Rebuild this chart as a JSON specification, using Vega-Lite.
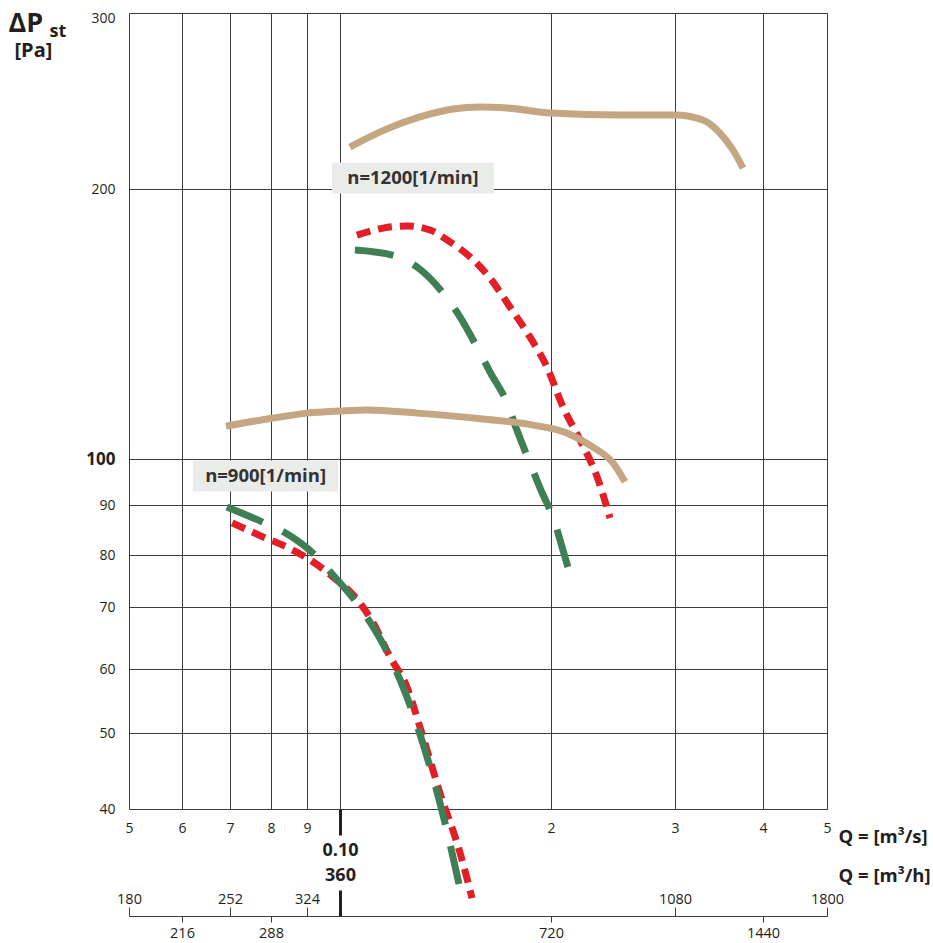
{
  "$schema": "https://vega.github.io/schema/vega-lite/v6.json",
  "width": 698,
  "height": 796,
  "autosize": {"type": "none"},
  "padding": {"left": 129, "top": 13, "right": 106, "bottom": 134},
  "background": "white",
  "config": {
    "font": "Open Sans",
    "view": {"stroke": null},
    "axis": {"labelFont": "Open Sans", "titleFont": "Open Sans", "labelColor": "#231f20", "titleColor": "#231f20"}
  },
  "title": {"text": "ρ = 1,2 [kg/m³]", "anchor": "end", "frame": "group", "fontSize": 20, "fontWeight": "bold", "color": "#231f20", "offset": 16},
  "datasets": {
    "curves": [
      {"c": "red_hi", "t": "red", "q": 0.1057, "p": 177.7},
      {"c": "red_hi", "t": "red", "q": 0.1152, "p": 180.9},
      {"c": "red_hi", "t": "red", "q": 0.1246, "p": 181.9},
      {"c": "red_hi", "t": "red", "q": 0.1344, "p": 180.0},
      {"c": "red_hi", "t": "red", "q": 0.1435, "p": 174.6},
      {"c": "red_hi", "t": "red", "q": 0.1533, "p": 168.0},
      {"c": "red_hi", "t": "red", "q": 0.1637, "p": 159.1},
      {"c": "red_hi", "t": "red", "q": 0.1748, "p": 147.7},
      {"c": "red_hi", "t": "red", "q": 0.1866, "p": 136.8},
      {"c": "red_hi", "t": "red", "q": 0.1974, "p": 126.6},
      {"c": "red_hi", "t": "red", "q": 0.2080, "p": 114.3},
      {"c": "red_hi", "t": "red", "q": 0.2199, "p": 105.0},
      {"c": "red_hi", "t": "red", "q": 0.2325, "p": 96.0},
      {"c": "red_hi", "t": "red", "q": 0.2426, "p": 87.3},
      {"c": "red_lo", "t": "red", "q": 0.0705, "p": 86.3},
      {"c": "red_lo", "t": "red", "q": 0.0779, "p": 83.5},
      {"c": "red_lo", "t": "red", "q": 0.0843, "p": 81.5},
      {"c": "red_lo", "t": "red", "q": 0.0909, "p": 79.0},
      {"c": "red_lo", "t": "red", "q": 0.0978, "p": 75.6},
      {"c": "red_lo", "t": "red", "q": 0.1068, "p": 70.7},
      {"c": "red_lo", "t": "red", "q": 0.1115, "p": 67.3},
      {"c": "red_lo", "t": "red", "q": 0.1179, "p": 61.8},
      {"c": "red_lo", "t": "red", "q": 0.1246, "p": 57.0},
      {"c": "red_lo", "t": "red", "q": 0.1300, "p": 50.9},
      {"c": "red_lo", "t": "red", "q": 0.1389, "p": 41.9},
      {"c": "red_lo", "t": "red", "q": 0.1483, "p": 35.2},
      {"c": "red_lo", "t": "red", "q": 0.1543, "p": 30.8},
      {"c": "green_hi", "t": "green", "q": 0.1050, "p": 171.0},
      {"c": "green_hi", "t": "green", "q": 0.1186, "p": 168.8},
      {"c": "green_hi", "t": "green", "q": 0.1288, "p": 163.7},
      {"c": "green_hi", "t": "green", "q": 0.1403, "p": 153.1},
      {"c": "green_hi", "t": "green", "q": 0.1483, "p": 144.0},
      {"c": "green_hi", "t": "green", "q": 0.1568, "p": 133.3},
      {"c": "green_hi", "t": "green", "q": 0.1637, "p": 125.0},
      {"c": "green_hi", "t": "green", "q": 0.1731, "p": 115.5},
      {"c": "green_hi", "t": "green", "q": 0.1788, "p": 107.7},
      {"c": "green_hi", "t": "green", "q": 0.1866, "p": 99.1},
      {"c": "green_hi", "t": "green", "q": 0.1929, "p": 93.6},
      {"c": "green_hi", "t": "green", "q": 0.2026, "p": 86.3},
      {"c": "green_hi", "t": "green", "q": 0.2080, "p": 80.9},
      {"c": "green_hi", "t": "green", "q": 0.2156, "p": 73.5},
      {"c": "green_lo", "t": "green", "q": 0.0693, "p": 89.6},
      {"c": "green_lo", "t": "green", "q": 0.0777, "p": 86.5},
      {"c": "green_lo", "t": "green", "q": 0.0838, "p": 84.3},
      {"c": "green_lo", "t": "green", "q": 0.0923, "p": 80.0},
      {"c": "green_lo", "t": "green", "q": 0.0978, "p": 76.0},
      {"c": "green_lo", "t": "green", "q": 0.1057, "p": 70.7},
      {"c": "green_lo", "t": "green", "q": 0.1115, "p": 66.6},
      {"c": "green_lo", "t": "green", "q": 0.1179, "p": 61.7},
      {"c": "green_lo", "t": "green", "q": 0.1246, "p": 55.4},
      {"c": "green_lo", "t": "green", "q": 0.1335, "p": 46.2},
      {"c": "green_lo", "t": "green", "q": 0.1412, "p": 38.4},
      {"c": "green_lo", "t": "green", "q": 0.1498, "p": 30.4},
      {"c": "tan_hi", "t": "tan", "q": 0.1033, "p": 220.3},
      {"c": "tan_hi", "t": "tan", "q": 0.1167, "p": 229.7},
      {"c": "tan_hi", "t": "tan", "q": 0.1300, "p": 236.1},
      {"c": "tan_hi", "t": "tan", "q": 0.1450, "p": 240.5},
      {"c": "tan_hi", "t": "tan", "q": 0.1584, "p": 241.6},
      {"c": "tan_hi", "t": "tan", "q": 0.1731, "p": 241.0},
      {"c": "tan_hi", "t": "tan", "q": 0.2000, "p": 238.3},
      {"c": "tan_hi", "t": "tan", "q": 0.2506, "p": 237.2},
      {"c": "tan_hi", "t": "tan", "q": 0.3000, "p": 237.2},
      {"c": "tan_hi", "t": "tan", "q": 0.3287, "p": 234.5},
      {"c": "tan_hi", "t": "tan", "q": 0.3475, "p": 227.5},
      {"c": "tan_hi", "t": "tan", "q": 0.3626, "p": 218.8},
      {"c": "tan_hi", "t": "tan", "q": 0.3747, "p": 209.9},
      {"c": "tan_lo", "t": "tan", "q": 0.0691, "p": 108.8},
      {"c": "tan_lo", "t": "tan", "q": 0.0790, "p": 110.8},
      {"c": "tan_lo", "t": "tan", "q": 0.0900, "p": 112.5},
      {"c": "tan_lo", "t": "tan", "q": 0.1000, "p": 113.1},
      {"c": "tan_lo", "t": "tan", "q": 0.1093, "p": 113.4},
      {"c": "tan_lo", "t": "tan", "q": 0.1288, "p": 112.5},
      {"c": "tan_lo", "t": "tan", "q": 0.1600, "p": 110.8},
      {"c": "tan_lo", "t": "tan", "q": 0.1885, "p": 109.1},
      {"c": "tan_lo", "t": "tan", "q": 0.2107, "p": 106.9},
      {"c": "tan_lo", "t": "tan", "q": 0.2294, "p": 103.1},
      {"c": "tan_lo", "t": "tan", "q": 0.2449, "p": 99.1},
      {"c": "tan_lo", "t": "tan", "q": 0.2548, "p": 94.9}
    ],
    "labels": [
      {"label": "n=1200[1/min]", "q": 0.1271, "p": 205.1},
      {"label": "n=900[1/min]", "q": 0.0786, "p": 96.2}
    ]
  },
  "layer": [
    {
      "data": {"name": "curves"},
      "transform": [{"filter": "datum.t == 'red'"}],
      "mark": {"type": "line", "color": "#e41e26", "strokeWidth": 7, "strokeDash": [14, 8], "interpolate": "monotone"},
      "encoding": {
        "x": {"field": "q", "type": "quantitative",
          "scale": {"type": "log", "domain": [0.05, 0.06, 0.07, 0.08, 0.09, 0.1, 0.2, 0.3, 0.4, 0.5], "range": [0, 53, 101, 142, 178, 211, 422, 546, 634, 698], "nice": false, "zero": false},
          "axis": {"orient": "bottom", "values": [0.05, 0.06, 0.07, 0.08, 0.09, 0.1, 0.2, 0.3, 0.4, 0.5], "grid": true, "gridColor": "#3c3c3c", "gridWidth": 1, "ticks": false, "domain": true, "domainColor": "#3c3c3c",
            "labelExpr": "datum.value < 0.095 ? format(datum.value * 100, 'd') : (datum.value < 0.15 ? '' : format(datum.value * 10, 'd'))",
            "labelFontSize": 14, "labelPadding": 12, "labelFlush": false, "labelOverlap": false,
            "title": "Q = [m³/s]", "titleFontSize": 18.5, "titleFontWeight": "bold", "titleX": 709, "titleY": 27, "titleAlign": "left", "titleBaseline": "middle", "titleAngle": 0}},
        "y": {"field": "p", "type": "quantitative",
          "scale": {"type": "log", "domain": [40, 50, 60, 70, 80, 90, 100, 200, 300], "range": [796, 720, 656, 594, 542, 492, 446, 176, 0], "nice": false, "zero": false},
          "axis": {"orient": "left", "values": [40, 50, 60, 70, 80, 90, 100, 200, 300], "grid": true, "gridColor": "#3c3c3c", "gridWidth": 1, "ticks": false, "domain": false, "labelPadding": 14, "labelOverlap": false, "labelFlush": false,
            "labelFontSize": {"condition": {"test": "datum.value == 100", "value": 17}, "value": 14},
            "labelFontWeight": {"condition": {"test": "datum.value == 100", "value": "bold"}, "value": "normal"},
            "labelOffset": {"condition": {"test": "datum.value == 300", "value": 5}, "value": 0},
            "title": "ΔP", "titleFontSize": 27, "titleFontWeight": "bold", "titleAngle": 0, "titleAlign": "left", "titleBaseline": "alphabetic", "titleX": -121, "titleY": 18}},
        "detail": {"field": "c"}
      }
    },
    {
      "data": {"name": "curves"},
      "transform": [{"filter": "datum.t == 'green'"}],
      "mark": {"type": "line", "color": "#3f7f55", "strokeWidth": 7, "strokeDash": [39, 22], "interpolate": "monotone"},
      "encoding": {
        "x": {"field": "q", "type": "quantitative",
          "scale": {"type": "log", "domain": [0.05, 0.06, 0.07, 0.08, 0.09, 0.1, 0.2, 0.3, 0.4, 0.5], "range": [0, 53, 101, 142, 178, 211, 422, 546, 634, 698], "nice": false, "zero": false},
          "axis": {"orient": "bottom", "values": [0.1], "grid": false, "domain": false, "ticks": true, "tickSize": 26, "tickWidth": 3, "tickColor": "#231f20",
            "labelExpr": "'0.10'", "labelFontSize": 18, "labelFontWeight": "bold", "labelPadding": 6, "labelFlush": false, "title": null}},
        "y": {"field": "p", "type": "quantitative",
          "scale": {"type": "log", "domain": [40, 50, 60, 70, 80, 90, 100, 200, 300], "range": [796, 720, 656, 594, 542, 492, 446, 176, 0], "nice": false, "zero": false},
          "axis": {"orient": "left", "grid": false, "ticks": false, "domain": false, "labels": false,
            "title": "st", "titleFontSize": 18, "titleFontWeight": "bold", "titleAngle": 0, "titleAlign": "left", "titleBaseline": "alphabetic", "titleX": -80, "titleY": 23}},
        "detail": {"field": "c"}
      }
    },
    {
      "data": {"name": "curves"},
      "transform": [{"filter": "datum.t == 'tan'"}],
      "mark": {"type": "line", "color": "#c4a683", "strokeWidth": 7, "interpolate": "monotone"},
      "encoding": {
        "x": {"field": "q", "type": "quantitative",
          "scale": {"type": "log", "domain": [0.05, 0.06, 0.07, 0.08, 0.09, 0.1, 0.2, 0.3, 0.4, 0.5], "range": [0, 53, 101, 142, 178, 211, 422, 546, 634, 698], "nice": false, "zero": false},
          "axis": {"orient": "bottom", "offset": 107, "values": [0.05, 0.07, 0.09, 0.3, 0.5], "grid": false, "domain": true, "domainColor": "#3c3c3c", "ticks": true, "tickSize": -9, "tickColor": "#3c3c3c",
            "labelExpr": "format(datum.value * 3600, 'd')", "labelFontSize": 14.5, "labelBaseline": "bottom", "labelPadding": -1, "labelFlush": false, "labelOverlap": false,
            "title": "Q = [m³/h]", "titleFontSize": 18.5, "titleFontWeight": "bold", "titleX": 709, "titleY": -41, "titleAlign": "left", "titleBaseline": "middle", "titleAngle": 0}},
        "y": {"field": "p", "type": "quantitative",
          "scale": {"type": "log", "domain": [40, 50, 60, 70, 80, 90, 100, 200, 300], "range": [796, 720, 656, 594, 542, 492, 446, 176, 0], "nice": false, "zero": false},
          "axis": {"orient": "left", "grid": false, "ticks": false, "domain": false, "labels": false,
            "title": "[Pa]", "titleFontSize": 20, "titleFontWeight": "bold", "titleAngle": 0, "titleAlign": "left", "titleBaseline": "alphabetic", "titleX": -115, "titleY": 43}},
        "detail": {"field": "c"}
      }
    },
    {
      "data": {"name": "labels"},
      "transform": [{"filter": "datum.label == 'n=1200[1/min]'"}],
      "mark": {"type": "point", "filled": true, "opacity": 1, "color": "#eaecea", "strokeWidth": 0, "shape": "M-1,-0.1914L1,-0.1914L1,0.1914L-1,0.1914Z", "size": 26244},
      "encoding": {
        "x": {"field": "q", "type": "quantitative",
          "scale": {"type": "log", "domain": [0.05, 0.06, 0.07, 0.08, 0.09, 0.1, 0.2, 0.3, 0.4, 0.5], "range": [0, 53, 101, 142, 178, 211, 422, 546, 634, 698], "nice": false, "zero": false},
          "axis": {"orient": "bottom", "offset": 107, "values": [0.06, 0.08, 0.2, 0.4], "grid": false, "domain": false, "ticks": true, "tickSize": 6, "tickColor": "#3c3c3c",
            "labelExpr": "format(datum.value * 3600, 'd')", "labelFontSize": 14.5, "labelPadding": 4, "labelFlush": false, "labelOverlap": false, "title": null}},
        "y": {"field": "p", "type": "quantitative",
          "scale": {"type": "log", "domain": [40, 50, 60, 70, 80, 90, 100, 200, 300], "range": [796, 720, 656, 594, 542, 492, 446, 176, 0], "nice": false, "zero": false},
          "axis": null}
      }
    },
    {
      "data": {"name": "labels"},
      "transform": [{"filter": "datum.label == 'n=900[1/min]'"}],
      "mark": {"type": "point", "filled": true, "opacity": 1, "color": "#eaecea", "strokeWidth": 0, "shape": "M-1,-0.2138L1,-0.2138L1,0.2138L-1,0.2138Z", "size": 21025},
      "encoding": {
        "x": {"field": "q", "type": "quantitative",
          "scale": {"type": "log", "domain": [0.05, 0.06, 0.07, 0.08, 0.09, 0.1, 0.2, 0.3, 0.4, 0.5], "range": [0, 53, 101, 142, 178, 211, 422, 546, 634, 698], "nice": false, "zero": false},
          "axis": {"orient": "bottom", "offset": 107, "values": [0.1], "grid": false, "domain": false, "ticks": true, "tickSize": -26, "tickWidth": 3, "tickColor": "#231f20",
            "labelExpr": "'360'", "labelFontSize": 18, "labelFontWeight": "bold", "labelBaseline": "bottom", "labelPadding": -6, "labelFlush": false, "title": null}},
        "y": {"field": "p", "type": "quantitative",
          "scale": {"type": "log", "domain": [40, 50, 60, 70, 80, 90, 100, 200, 300], "range": [796, 720, 656, 594, 542, 492, 446, 176, 0], "nice": false, "zero": false},
          "axis": null}
      }
    },
    {
      "data": {"name": "labels"},
      "mark": {"type": "text", "font": "Open Sans", "fontSize": 18.5, "fontWeight": "bold", "color": "#333333", "align": "center", "baseline": "middle"},
      "encoding": {
        "x": {"field": "q", "type": "quantitative",
          "scale": {"type": "log", "domain": [0.05, 0.06, 0.07, 0.08, 0.09, 0.1, 0.2, 0.3, 0.4, 0.5], "range": [0, 53, 101, 142, 178, 211, 422, 546, 634, 698], "nice": false, "zero": false},
          "axis": null},
        "y": {"field": "p", "type": "quantitative",
          "scale": {"type": "log", "domain": [40, 50, 60, 70, 80, 90, 100, 200, 300], "range": [796, 720, 656, 594, 542, 492, 446, 176, 0], "nice": false, "zero": false},
          "axis": null},
        "text": {"field": "label"}
      }
    }
  ],
  "resolve": {"axis": {"x": "independent", "y": "independent"}, "scale": {"x": "shared", "y": "shared"}}
}
